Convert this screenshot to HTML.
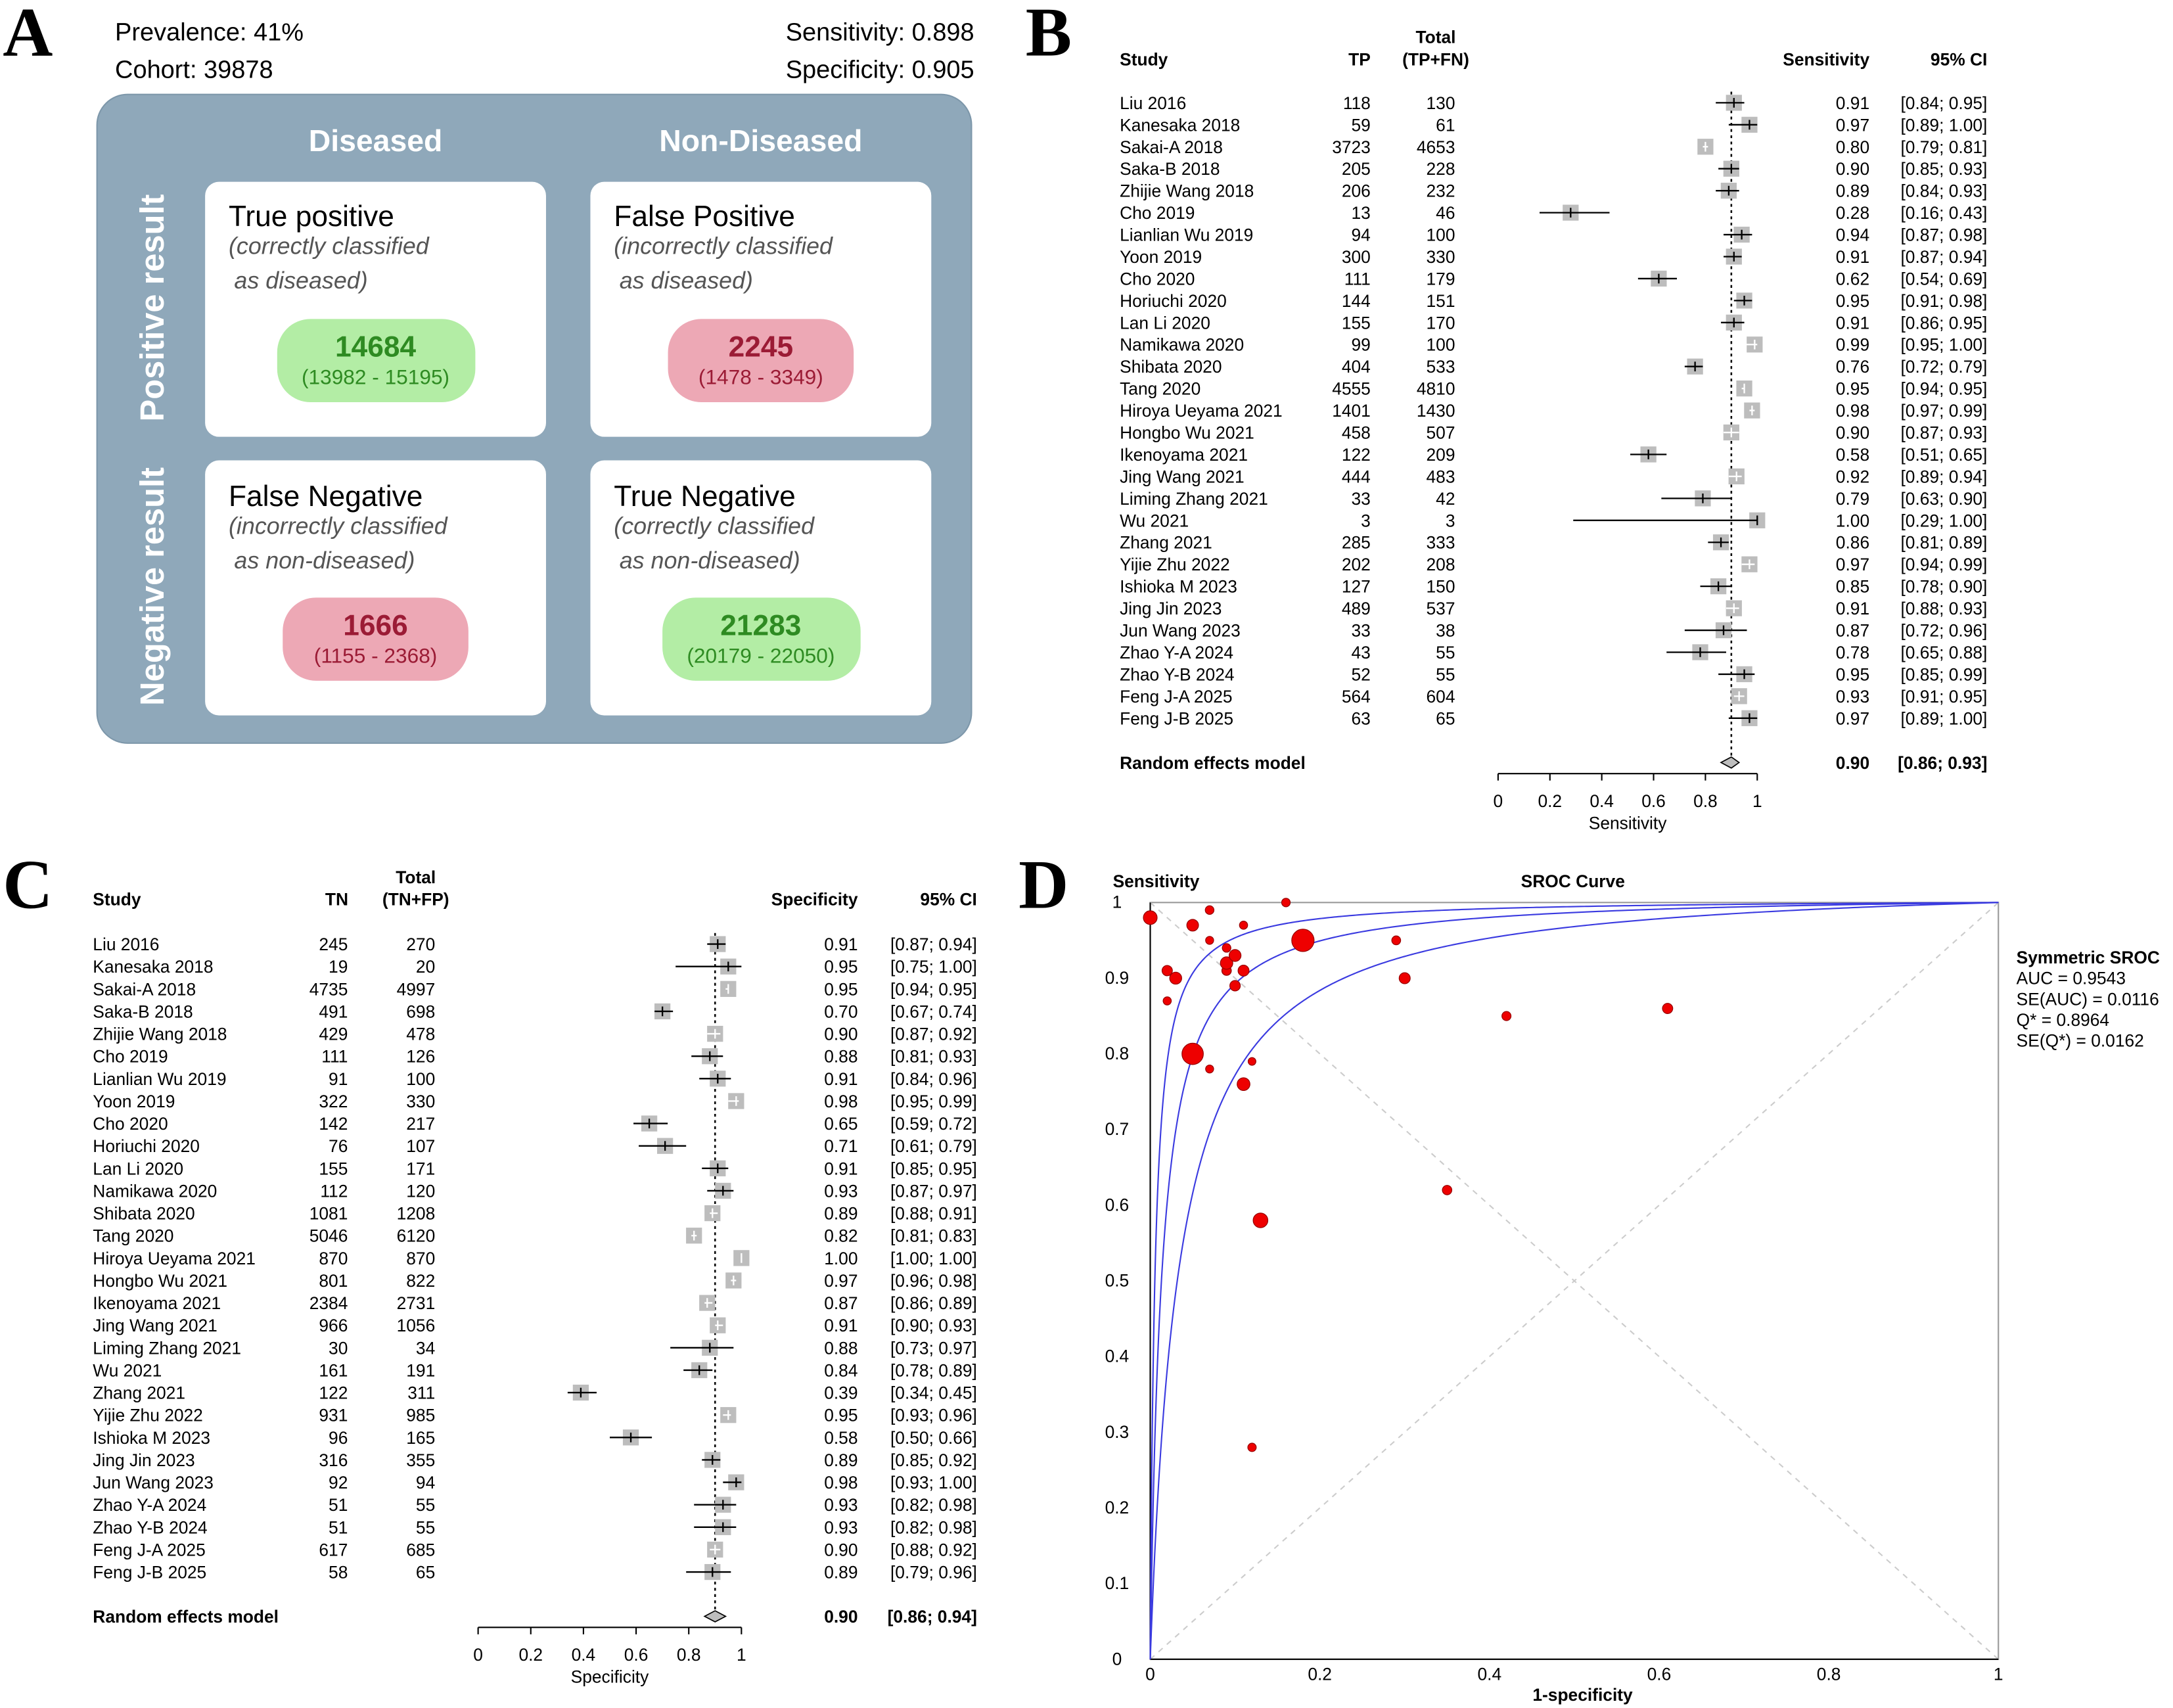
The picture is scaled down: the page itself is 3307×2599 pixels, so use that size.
<!DOCTYPE html>
<html><head><meta charset="utf-8">
<style>
html,body{margin:0;padding:0;background:#fff}
svg{display:block;font-family:"Liberation Sans",Arial,sans-serif}
</style></head>
<body>
<svg id="root" width="3307" height="2599" viewBox="0 0 1568 1232" xmlns="http://www.w3.org/2000/svg">
<rect width="1568" height="1232" fill="#fff"/>
<g font-family="Liberation Serif,serif" font-weight="bold" font-size="50">
<text x="2" y="40">A</text>
<text x="740" y="40">B</text>
<text x="2" y="655">C</text>
<text x="735" y="655">D</text>
</g>

<g>
<text x="83" y="29" font-size="18">Prevalence: 41%</text>
<text x="83" y="56" font-size="18">Cohort: 39878</text>
<text x="703" y="29" font-size="18" text-anchor="end">Sensitivity: 0.898</text>
<text x="703" y="56" font-size="18" text-anchor="end">Specificity: 0.905</text>
<rect x="70" y="68" width="631" height="468" rx="22" fill="#8fa8ba" stroke="#7d97aa"/>
<text x="271" y="109" font-size="22" font-weight="bold" fill="#fff" text-anchor="middle">Diseased</text>
<text x="549" y="109" font-size="22" font-weight="bold" fill="#fff" text-anchor="middle">Non-Diseased</text>
<text transform="translate(118,222) rotate(-90)" font-size="24" font-weight="bold" fill="#fff" text-anchor="middle">Positive result</text>
<text transform="translate(118,423) rotate(-90)" font-size="24" font-weight="bold" fill="#fff" text-anchor="middle">Negative result</text>

<g>
<rect x="148" y="131" width="246" height="184" rx="10" fill="#fff"/>
<text x="165" y="163" font-size="21">True positive</text>
<text x="165" y="183" font-size="17" font-style="italic" fill="#555">(correctly classified</text>
<text x="169" y="208" font-size="17" font-style="italic" fill="#555">as diseased)</text>
<rect x="200" y="230" width="143" height="60" rx="24" fill="#b3eda5"/>
<text x="271" y="257" font-size="21" font-weight="bold" fill="#2e8b22" text-anchor="middle">14684</text>
<text x="271" y="277" font-size="15" fill="#2e8b22" text-anchor="middle">(13982 - 15195)</text>
</g>
<g>
<rect x="426" y="131" width="246" height="184" rx="10" fill="#fff"/>
<text x="443" y="163" font-size="21">False Positive</text>
<text x="443" y="183" font-size="17" font-style="italic" fill="#555">(incorrectly classified</text>
<text x="447" y="208" font-size="17" font-style="italic" fill="#555">as diseased)</text>
<rect x="482" y="230" width="134" height="60" rx="24" fill="#eda8b5"/>
<text x="549" y="257" font-size="21" font-weight="bold" fill="#9b1b35" text-anchor="middle">2245</text>
<text x="549" y="277" font-size="15" fill="#9b1b35" text-anchor="middle">(1478 - 3349)</text>
</g>
<g>
<rect x="148" y="332" width="246" height="184" rx="10" fill="#fff"/>
<text x="165" y="365" font-size="21">False Negative</text>
<text x="165" y="385" font-size="17" font-style="italic" fill="#555">(incorrectly classified</text>
<text x="169" y="410" font-size="17" font-style="italic" fill="#555">as non-diseased)</text>
<rect x="204" y="431" width="134" height="60" rx="24" fill="#eda8b5"/>
<text x="271" y="458" font-size="21" font-weight="bold" fill="#9b1b35" text-anchor="middle">1666</text>
<text x="271" y="478" font-size="15" fill="#9b1b35" text-anchor="middle">(1155 - 2368)</text>
</g>
<g>
<rect x="426" y="332" width="246" height="184" rx="10" fill="#fff"/>
<text x="443" y="365" font-size="21">True Negative</text>
<text x="443" y="385" font-size="17" font-style="italic" fill="#555">(correctly classified</text>
<text x="447" y="410" font-size="17" font-style="italic" fill="#555">as non-diseased)</text>
<rect x="478" y="431" width="143" height="60" rx="24" fill="#b3eda5"/>
<text x="549" y="458" font-size="21" font-weight="bold" fill="#2e8b22" text-anchor="middle">21283</text>
<text x="549" y="478" font-size="15" fill="#2e8b22" text-anchor="middle">(20179 - 22050)</text>
</g>
</g>

<g id="panelB"></g>
<g id="panelC"></g>
<g id="panelD"></g>
</svg>
<script>
const studies = ["Liu 2016","Kanesaka 2018","Sakai-A 2018","Saka-B 2018","Zhijie Wang 2018","Cho 2019","Lianlian Wu 2019","Yoon 2019","Cho 2020","Horiuchi 2020","Lan Li 2020","Namikawa 2020","Shibata 2020","Tang 2020","Hiroya Ueyama 2021","Hongbo Wu 2021","Ikenoyama 2021","Jing Wang 2021","Liming Zhang 2021","Wu 2021","Zhang 2021","Yijie Zhu 2022","Ishioka M 2023","Jing Jin 2023","Jun Wang 2023","Zhao Y-A 2024","Zhao Y-B 2024","Feng J-A 2025","Feng J-B 2025"];
const tp = [118,59,3723,205,206,13,94,300,111,144,155,99,404,4555,1401,458,122,444,33,3,285,202,127,489,33,43,52,564,63];
const totPos = [130,61,4653,228,232,46,100,330,179,151,170,100,533,4810,1430,507,209,483,42,3,333,208,150,537,38,55,55,604,65];
const sens = [0.91,0.97,0.80,0.90,0.89,0.28,0.94,0.91,0.62,0.95,0.91,0.99,0.76,0.95,0.98,0.90,0.58,0.92,0.79,1.00,0.86,0.97,0.85,0.91,0.87,0.78,0.95,0.93,0.97];
const sensLo = [0.84,0.89,0.79,0.85,0.84,0.16,0.87,0.87,0.54,0.91,0.86,0.95,0.72,0.94,0.97,0.87,0.51,0.89,0.63,0.29,0.81,0.94,0.78,0.88,0.72,0.65,0.85,0.91,0.89];
const sensHi = [0.95,1.00,0.81,0.93,0.93,0.43,0.98,0.94,0.69,0.98,0.95,1.00,0.79,0.95,0.99,0.93,0.65,0.94,0.90,1.00,0.89,0.99,0.90,0.93,0.96,0.88,0.99,0.95,1.00];
const tn = [245,19,4735,491,429,111,91,322,142,76,155,112,1081,5046,870,801,2384,966,30,161,122,931,96,316,92,51,51,617,58];
const totNeg = [270,20,4997,698,478,126,100,330,217,107,171,120,1208,6120,870,822,2731,1056,34,191,311,985,165,355,94,55,55,685,65];
const spec = [0.91,0.95,0.95,0.70,0.90,0.88,0.91,0.98,0.65,0.71,0.91,0.93,0.89,0.82,1.00,0.97,0.87,0.91,0.88,0.84,0.39,0.95,0.58,0.89,0.98,0.93,0.93,0.90,0.89];
const specLo = [0.87,0.75,0.94,0.67,0.87,0.81,0.84,0.95,0.59,0.61,0.85,0.87,0.88,0.81,1.00,0.96,0.86,0.90,0.73,0.78,0.34,0.93,0.50,0.85,0.93,0.82,0.82,0.88,0.79];
const specHi = [0.94,1.00,0.95,0.74,0.92,0.93,0.96,0.99,0.72,0.79,0.95,0.97,0.91,0.83,1.00,0.98,0.89,0.93,0.97,0.89,0.45,0.96,0.66,0.92,1.00,0.98,0.98,0.92,0.96];
const pooledSens = [0.90,0.86,0.93];
const pooledSpec = [0.90,0.86,0.94];
const axisTicks = [0,0.2,0.4,0.6,0.8,1];
const srocTicks = [0,0.1,0.2,0.3,0.4,0.5,0.6,0.7,0.8,0.9,1];
const srocXTicks = [0,0.2,0.4,0.6,0.8,1];
const srocStats = ["AUC = 0.9543","SE(AUC) = 0.0116","Q* = 0.8964","SE(Q*) = 0.0162"];
const NS="http://www.w3.org/2000/svg";
function mk(parent,tag,attrs,txt){const e=document.createElementNS(NS,tag);for(const k in attrs)e.setAttribute(k,attrs[k]);if(txt!==undefined)e.textContent=txt;parent.appendChild(e);return e;}
function fmt(v){return v.toFixed(2);}

function forest(g,cfg){
  const x=v=>cfg.x0+(cfg.x1-cfg.x0)*v;
  const y=i=>cfg.y0+cfg.step*i;
  let t=mk(g,'text',{x:cfg.studyX,y:cfg.hy,'font-size':12.5,'font-weight':'bold'},'Study');
  
  
  t=mk(g,'text',{x:cfg.c1X-8,y:cfg.hy,'font-size':12.5,'font-weight':'bold','text-anchor':'middle'},cfg.c1Name);
  
  
  t=mk(g,'text',{x:cfg.c2X-14,y:cfg.hy-16,'font-size':12.5,'font-weight':'bold','text-anchor':'middle'},'Total');
  
  
  t=mk(g,'text',{x:cfg.c2X-14,y:cfg.hy,'font-size':12.5,'font-weight':'bold','text-anchor':'middle'},cfg.totName);
  
  
  t=mk(g,'text',{x:cfg.estX,y:cfg.hy,'font-size':12.5,'font-weight':'bold','text-anchor':'end'},cfg.estName);
  
  
  t=mk(g,'text',{x:cfg.ciX,y:cfg.hy,'font-size':12.5,'font-weight':'bold','text-anchor':'end'},'95% CI');
  
  
  const ln=mk(g,'line',{x1:x(cfg.pooled[0]),x2:x(cfg.pooled[0]),y1:y(0)-8,y2:cfg.pooledY+4,stroke:'#000','stroke-dasharray':'2,2.5','stroke-width':1.2});
  
  
  const S=11.5;
  studies.forEach((s,i)=>{
    const yy=y(i);
    let e=mk(g,'text',{x:cfg.studyX,y:yy+4.5,'font-size':12.5},s);
    
    
    e=mk(g,'text',{x:cfg.c1X,y:yy+4.5,'font-size':12.5,'text-anchor':'end'},cfg.c1[i]);
    
    
    e=mk(g,'text',{x:cfg.c2X,y:yy+4.5,'font-size':12.5,'text-anchor':'end'},cfg.c2[i]);
    
    
    e=mk(g,'text',{x:cfg.estX,y:yy+4.5,'font-size':12.5,'text-anchor':'end'},fmt(cfg.est[i]));
    
    
    e=mk(g,'text',{x:cfg.ciX,y:yy+4.5,'font-size':12.5,'text-anchor':'end'},'['+fmt(cfg.lo[i])+'; '+fmt(cfg.hi[i])+']');
    
    
    const cx=x(cfg.est[i]);
    e=mk(g,'rect',{x:cx-S/2,y:yy-S/2,width:S,height:S,fill:'#bdbdbd'});
    
    
    const inside=(x(cfg.hi[i])-x(cfg.lo[i]))<S;
    const col=inside?'#fff':'#000';
    e=mk(g,'line',{x1:x(cfg.lo[i]),x2:x(cfg.hi[i]),y1:yy,y2:yy,stroke:col,'stroke-width':1.1});
    
    
    e=mk(g,'line',{x1:cx,x2:cx,y1:yy-3.5,y2:yy+3.5,stroke:col,'stroke-width':1.1});
    
    
  });
  const py=cfg.pooledY;
  let e=mk(g,'text',{x:cfg.studyX,y:py+4.5,'font-size':12.5,'font-weight':'bold'},'Random effects model');
  
  
  e=mk(g,'text',{x:cfg.estX,y:py+4.5,'font-size':12.5,'font-weight':'bold','text-anchor':'end'},fmt(cfg.pooled[0]));
  
  
  e=mk(g,'text',{x:cfg.ciX,y:py+4.5,'font-size':12.5,'font-weight':'bold','text-anchor':'end'},'['+fmt(cfg.pooled[1])+'; '+fmt(cfg.pooled[2])+']');
  
  
  e=mk(g,'polygon',{points:`${x(cfg.pooled[1])},${py} ${x(cfg.pooled[0])},${py-4} ${x(cfg.pooled[2])},${py} ${x(cfg.pooled[0])},${py+4}`,fill:'#bdbdbd',stroke:'#000','stroke-width':0.8});
  
  
  const ay=cfg.axisY;
  e=mk(g,'line',{x1:x(0),x2:x(1),y1:ay,y2:ay,stroke:'#000','stroke-width':1});
  
  
  axisTicks.forEach(v=>{
    let k=mk(g,'line',{x1:x(v),x2:x(v),y1:ay,y2:ay+5,stroke:'#000'});
    
    
    k=mk(g,'text',{x:x(v),y:ay+24,'font-size':12.5,'text-anchor':'middle'},String(v));
    
    
  });
  e=mk(g,'text',{x:x(0.5),y:ay+40,'font-size':12.5,'text-anchor':'middle'},cfg.estName);
  
  
}
forest(document.getElementById('panelB'),{x0:1081,x1:1268,y0:74,step:15.857,studyX:808,hy:47,c1X:989,c2X:1050,estX:1349,ciX:1434,
  c1Name:'TP',totName:'(TP+FN)',estName:'Sensitivity',c1:tp,c2:totPos,est:sens,lo:sensLo,hi:sensHi,pooled:pooledSens,pooledY:550,axisY:558});
forest(document.getElementById('panelC'),{x0:345,x1:535,y0:681,step:16.18,studyX:67,hy:653,c1X:251,c2X:314,estX:619,ciX:705,
  c1Name:'TN',totName:'(TN+FP)',estName:'Specificity',c1:tn,c2:totNeg,est:spec,lo:specLo,hi:specHi,pooled:pooledSpec,pooledY:1166,axisY:1174});

(function(){
  const g=document.getElementById('panelD');
  const X0=830,X1=1442,Y0=1197,Y1=651;
  const x=v=>X0+(X1-X0)*v, y=v=>Y0-(Y0-Y1)*v;
  let e=mk(g,'rect',{x:X0,y:Y1,width:X1-X0,height:Y0-Y1,fill:'none',stroke:'#999','stroke-width':1});
  
  
  e=mk(g,'line',{x1:x(0),y1:y(0),x2:x(1),y2:y(1),stroke:'#ccc','stroke-dasharray':'4,4'});
  
  
  e=mk(g,'line',{x1:x(0),y1:y(1),x2:x(1),y2:y(0),stroke:'#ccc','stroke-dasharray':'4,4'});
  
  
  e=mk(g,'line',{x1:X0,y1:Y0,x2:X0,y2:Y1,stroke:'#000'});
  
  
  e=mk(g,'line',{x1:X0,y1:Y0,x2:X1,y2:Y0,stroke:'#000'});
  
  
  srocTicks.forEach(v=>{
    let k=mk(g,'text',{x:806,y:y(v)+4,'font-size':12.5,'text-anchor':'middle'},String(v));
    
    
  });
  srocXTicks.forEach(v=>{
    let k=mk(g,'text',{x:x(v),y:1212,'font-size':12.5,'text-anchor':'middle'},String(v));
    
    
  });
  const Q=0.8964, D=2*Math.log(Q/(1-Q));
  [D+0.9,D,D-0.9].forEach((d,j)=>{
    let pts=[];
    for(let i=1;i<=400;i++){const f=Math.pow(i/400,2.5);const lf=Math.log(f/(1-f+1e-9));const s=1/(1+Math.exp(-(d+lf)));pts.push(x(Math.min(f,1)).toFixed(2)+','+y(s).toFixed(2));}
    pts.unshift(x(0)+','+y(0));
    let p=mk(g,'polyline',{points:pts.join(' '),fill:'none',stroke:'#3a3ae0','stroke-width':1});
    
    
  });
  studies.forEach((s,i)=>{
    const n=totPos[i]+totNeg[i];
    let c=mk(g,'circle',{cx:x(1-spec[i]),cy:y(sens[i]),r:2.3+0.055*Math.sqrt(n),fill:'#ee0000',stroke:'#900','stroke-width':0.6});
    
    
  });
  e=mk(g,'text',{x:803,y:640,'font-size':12.5,'font-weight':'bold'},'Sensitivity');
  
  
  e=mk(g,'text',{x:1135,y:640,'font-size':12.5,'font-weight':'bold','text-anchor':'middle'},'SROC Curve');
  
  
  e=mk(g,'text',{x:1142,y:1227,'font-size':12.5,'font-weight':'bold','text-anchor':'middle'},'1-specificity');
  
  
  e=mk(g,'text',{x:1455,y:695,'font-size':12.5,'font-weight':'bold'},'Symmetric SROC');
  
  
  srocStats.forEach((s,i)=>{
    let k=mk(g,'text',{x:1455,y:710+i*15,'font-size':12.5},s);
    
    
  });
})();
</script>
</body></html>
